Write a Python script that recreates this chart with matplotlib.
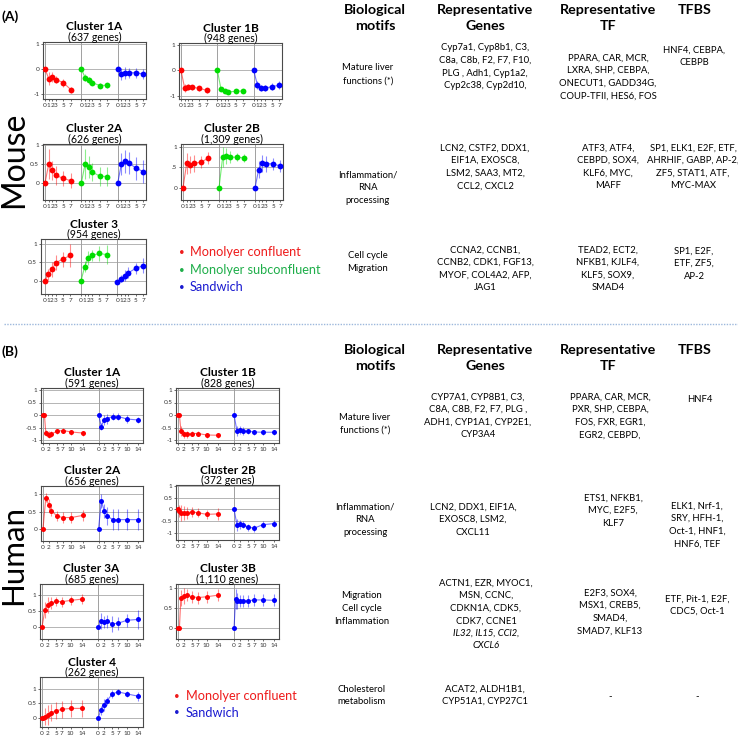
import matplotlib
matplotlib.use('Agg')
import matplotlib.pyplot as plt
from matplotlib.lines import Line2D

W, H = 738, 739
plt.rcParams['font.family'] = ['Lato', 'DejaVu Sans']
plt.rcParams['axes.unicode_minus'] = False

BODY_FONT, BODY = ['Lato', 'DejaVu Sans'], 6.8

RED, GREEN, BLUE = '#ff0000', '#00dd00', '#0000ff'

# ---------------- data ----------------
mouse_t = [0, 1, 2, 3, 5, 7]
mouse_ticks = [0, 1, 2, 3, 5, 7]
human_ticks = [0, 2, 5, 7, 10, 14]
human_t9 = [0, 0.5, 1, 2, 3, 5, 7, 10, 14]
human_t8 = [0, 1, 2, 3, 5, 7, 10, 14]

# Mouse cluster 1A
m1a_red = [0.0, -0.38, -0.31, -0.42, -0.55, -0.82]
m1a_green = [0.0, -0.34, -0.45, -0.55, -0.66, -0.65]
m1a_blue = [0.0, -0.2, -0.16, -0.15, -0.15, -0.2]
m1a_red_err = [0.05, 0.25, 0.2, 0.15, 0.15, 0.12]
m1a_green_err = [0.05, 0.15, 0.15, 0.1, 0.1, 0.1]
m1a_blue_err = [0.05, 0.25, 0.25, 0.2, 0.2, 0.2]
# Mouse cluster 1B
m1b_red = [0.0, -0.7, -0.65, -0.66, -0.7, -0.78]
m1b_green = [0.0, -0.74, -0.79, -0.84, -0.82, -0.8]
m1b_blue = [0.0, -0.57, -0.68, -0.7, -0.63, -0.58]
m1b_red_err = [0.05, 0.15, 0.1, 0.1, 0.1, 0.1]
m1b_green_err = [0.05, 0.08, 0.08, 0.08, 0.08, 0.08]
m1b_blue_err = [0.05, 0.15, 0.12, 0.12, 0.12, 0.15]
# Mouse cluster 2A
m2a_red = [0.0, 0.5, 0.33, 0.2, 0.12, 0.06]
m2a_green = [0.0, 0.5, 0.42, 0.29, 0.18, 0.17]
m2a_blue = [0.0, 0.5, 0.57, 0.53, 0.39, 0.3]
m2a_red_err = [0.05, 0.4, 0.25, 0.25, 0.2, 0.2]
m2a_green_err = [0.05, 0.4, 0.3, 0.25, 0.25, 0.25]
m2a_blue_err = [0.05, 0.3, 0.3, 0.3, 0.3, 0.3]
# Mouse cluster 2B
m2b_red = [0.0, 0.6, 0.57, 0.6, 0.63, 0.73]
m2b_green = [0.0, 0.75, 0.78, 0.75, 0.75, 0.73]
m2b_blue = [0.0, 0.45, 0.6, 0.59, 0.59, 0.53]
m2b_red_err = [0.05, 0.25, 0.2, 0.2, 0.15, 0.15]
m2b_green_err = [0.05, 0.25, 0.2, 0.15, 0.1, 0.1]
m2b_blue_err = [0.05, 0.2, 0.2, 0.2, 0.15, 0.15]
# Mouse cluster 3
m3_red = [0.0, 0.18, 0.31, 0.49, 0.59, 0.69]
m3_green = [0.0, 0.39, 0.62, 0.69, 0.74, 0.71]
m3_blue = [-0.02, 0.06, 0.14, 0.22, 0.34, 0.41]
m3_red_err = [0.05, 0.15, 0.2, 0.2, 0.2, 0.3]
m3_green_err = [0.05, 0.15, 0.2, 0.15, 0.2, 0.25]
m3_blue_err = [0.05, 0.1, 0.15, 0.15, 0.15, 0.2]

# Human clusters
h1a_red = [0.02, 0.02, -0.72, -0.78, -0.75, -0.65, -0.62, -0.68, -0.72]
h1a_blue = [0.02, -0.46, -0.18, -0.14, -0.06, -0.06, -0.16, -0.2]
h1a_red_err = [0.02, 0.02, 0.12, 0.15, 0.12, 0.1, 0.1, 0.1, 0.1]
h1a_blue_err = [0.02, 0.15, 0.2, 0.2, 0.15, 0.15, 0.15, 0.12]
h1b_red = [0.0, 0.0, -0.62, -0.77, -0.77, -0.74, -0.74, -0.8, -0.81]
h1b_blue = [0.0, -0.64, -0.59, -0.64, -0.65, -0.68, -0.69, -0.69]
h1b_red_err = [0.02, 0.02, 0.2, 0.15, 0.15, 0.1, 0.1, 0.1, 0.1]
h1b_blue_err = [0.02, 0.2, 0.15, 0.15, 0.1, 0.1, 0.1, 0.1]
h2a_red = [0.0, 0.9, 0.7, 0.52, 0.37, 0.33, 0.33, 0.39]
h2a_blue = [0.0, 0.8, 0.53, 0.38, 0.27, 0.27, 0.27, 0.27]
h2a_red_err = [0.02, 0.12, 0.15, 0.15, 0.15, 0.15, 0.15, 0.15]
h2a_blue_err = [0.02, 0.2, 0.2, 0.25, 0.3, 0.3, 0.3, 0.3]
h2b_red = [0.0, -0.07, -0.14, -0.14, -0.14, -0.11, -0.14, -0.21, -0.19]
h2b_blue = [0.0, -0.65, -0.63, -0.65, -0.75, -0.8, -0.65, -0.6]
h2b_red_err = [0.02, 0.25, 0.35, 0.3, 0.25, 0.2, 0.2, 0.2, 0.25]
h2b_blue_err = [0.02, 0.25, 0.2, 0.15, 0.15, 0.15, 0.15, 0.15]
h3a_red = [0.0, 0.53, 0.68, 0.75, 0.8, 0.79, 0.83, 0.87]
h3a_blue = [0.0, 0.18, 0.16, 0.18, 0.1, 0.12, 0.21, 0.24]
h3a_red_err = [0.02, 0.25, 0.25, 0.2, 0.15, 0.15, 0.15, 0.15]
h3a_blue_err = [0.02, 0.25, 0.2, 0.2, 0.25, 0.2, 0.2, 0.3]
h3b_red = [0.0, 0.0, 0.75, 0.8, 0.82, 0.78, 0.76, 0.78, 0.82]
h3b_blue = [0.0, 0.72, 0.68, 0.67, 0.68, 0.68, 0.7, 0.7, 0.69]
h3b_red_err = [0.02, 0.02, 0.2, 0.2, 0.15, 0.15, 0.15, 0.15, 0.15]
h3b_blue_err = [0.02, 0.25, 0.2, 0.15, 0.15, 0.15, 0.15, 0.15, 0.15]
h4_red = [0.0, 0.0, 0.05, 0.1, 0.18, 0.25, 0.3, 0.33, 0.33]
h4_blue = [0.0, 0.27, 0.44, 0.58, 0.83, 0.9, 0.83, 0.75]
h4_red_err = [0.02, 0.02, 0.3, 0.35, 0.3, 0.3, 0.3, 0.3, 0.3]
h4_blue_err = [0.02, 0.15, 0.2, 0.15, 0.15, 0.1, 0.1, 0.15]

# table text
headers = ["Biological\nmotifs", "Representative\nGenes", "Representative\nTF", "TFBS"]
mouse_motifs = [["Mature liver", "functions (*)"],
                ["Inflammation/", "RNA", "processing"],
                ["Cell cycle", "Migration"]]
mouse_genes = [["Cyp7a1, Cyp8b1, C3,", "C8a, C8b, F2, F7, F10,", "PLG , Adh1, Cyp1a2,", "Cyp2c38, Cyp2d10,"],
               ["LCN2, CSTF2, DDX1,", "EIF1A, EXOSC8,", "LSM2, SAA3, MT2,", "CCL2, CXCL2"],
               ["CCNA2, CCNB1,", "CCNB2, CDK1, FGF13,", "MYOF, COL4A2, AFP,", "JAG1"]]
mouse_tf = [["PPARA, CAR, MCR,", "LXRA, SHP, CEBPA,", "ONECUT1, GADD34G,", "COUP-TFII, HES6, FOS"],
            ["ATF3, ATF4,", "CEBPD, SOX4,", "KLF6, MYC,", "MAFF"],
            ["TEAD2, ECT2,", "NFKB1, KJLF4,", "KLF5, SOX9,", "SMAD4"]]
mouse_tfbs = [["HNF4, CEBPA,", "CEBPB"],
              ["SP1, ELK1, E2F, ETF,", "AHRHIF, GABP, AP-2,", "ZF5, STAT1, ATF,", "MYC-MAX"],
              ["SP1, E2F,", "ETF, ZF5,", "AP-2"]]
human_motifs = [["Mature liver", "functions (*)"],
                ["Inflammation/", "RNA", "processing"],
                ["Migration", "Cell cycle", "Inflammation"],
                ["Cholesterol", "metabolism"]]
human_genes = [["CYP7A1, CYP8B1, C3,", "C8A, C8B, F2, F7, PLG ,", "ADH1, CYP1A1, CYP2E1,", "CYP3A4"],
               ["LCN2, DDX1, EIF1A,", "EXOSC8, LSM2,", "CXCL11"],
               ["ACTN1, EZR, MYOC1,", "MSN, CCNC,", "CDKN1A, CDK5,", "CDK7, CCNE1"],
               ["ACAT2, ALDH1B1,", "CYP51A1, CYP27C1"]]
human_genes_italic = ["IL32, IL15, CCl2,", "CXCL6"]
human_tf = [["PPARA, CAR, MCR,", "PXR, SHP, CEBPA,", "FOS, FXR, EGR1,", "EGR2, CEBPD,"],
            ["ETS1, NFKB1,", "MYC, E2F5,", "KLF7"],
            ["E2F3, SOX4,", "MSX1, CREB5,", "SMAD4,", "SMAD7, KLF13"],
            ["-"]]
human_tfbs = [["HNF4"],
              ["ELK1, Nrf-1,", "SRY, HFH-1,", "Oct-1, HNF1,", "HNF6, TEF"],
              ["ETF, Pit-1, E2F,", "CDC5, Oct-1"],
              ["-"]]
mouse_legend = ["Monolyer confluent", "Monolyer subconfluent", "Sandwich"]
human_legend = ["Monolyer confluent", "Sandwich"]

# ---------------- figure ----------------
fig = plt.figure(figsize=(W / 100, H / 100), dpi=100)


def fx(x):
    return x / W


def fy(y):
    return 1 - y / H


def panel(rect, title, sub, series, offset, xlim, ylim, yticks, yticklabels, ticks, ms):
    l, t, r, b = rect
    ax = fig.add_axes([fx(l), fy(b), (r - l) / W, (b - t) / H])
    for k, (times, vals, errs, col) in enumerate(series):
        xs = [tt + k * offset for tt in times]
        ax.errorbar(xs, vals, yerr=errs, fmt='none', ecolor=col, elinewidth=0.8,
                    alpha=0.45, zorder=2)
        ax.plot(xs, vals, '-', color=col, lw=0.8, alpha=0.55, zorder=3)
        ax.plot(xs, vals, 'o', color=col, ms=ms, mec='none', zorder=4)
        ax.axvline(k * offset, color='#a0a0a0', lw=0.7, zorder=1)
    ax.set_xlim(*xlim)
    ax.set_ylim(*ylim)
    ax.set_yticks(yticks)
    ax.set_yticklabels(yticklabels)
    xt, xl = [], []
    for k in range(len(series)):
        for tt in ticks:
            xt.append(tt + k * offset)
            xl.append(str(tt))
    ax.set_xticks(xt)
    ax.set_xticklabels(xl)
    ax.yaxis.grid(True, color='#b4b4b4', lw=0.7)
    ax.set_axisbelow(True)
    ax.tick_params(axis='both', labelsize=4.6, length=1.5, width=0.5, pad=1.2,
                   colors='#333333', direction='out')
    for s in ax.spines.values():
        s.set_color('#4a4a4a')
        s.set_linewidth(0.8)
    cx = (l + r) / 2
    fig.text(fx(cx), fy(t - 15), title, ha='center', va='center', fontsize=8.6,
             fontweight='bold')
    fig.text(fx(cx), fy(t - 5), sub, ha='center', va='center', fontsize=7.6)
    return ax


M_OFF = 9.9
M_XLIM = (-0.55, 27.5)
H_OFF = 19.6
H_XLIM = (-0.7, 35.3)
M_MS = 4.2
H_MS = 3.6

# Mouse panels
panel((43, 42, 146, 99), "Cluster 1A", "(637 genes)",
      [(mouse_t, m1a_red, m1a_red_err, RED), (mouse_t, m1a_green, m1a_green_err, GREEN),
       (mouse_t, m1a_blue, m1a_blue_err, BLUE)],
      M_OFF, M_XLIM, (-1.2, 1.08), [-1, 0, 1], ['-1', '0', '1'], mouse_ticks, M_MS)
panel((179, 43, 282, 99), "Cluster 1B", "(948 genes)",
      [(mouse_t, m1b_red, m1b_red_err, RED), (mouse_t, m1b_green, m1b_green_err, GREEN),
       (mouse_t, m1b_blue, m1b_blue_err, BLUE)],
      M_OFF, M_XLIM, (-1.12, 1.08), [-1, 0, 1], ['-1', '0', '1'], mouse_ticks, M_MS)
panel((43, 144, 146, 200), "Cluster 2A", "(626 genes)",
      [(mouse_t, m2a_red, m2a_red_err, RED), (mouse_t, m2a_green, m2a_green_err, GREEN),
       (mouse_t, m2a_blue, m2a_blue_err, BLUE)],
      M_OFF, M_XLIM, (-0.45, 1.03), [0, 0.5, 1], ['0', '0.5', '1'], mouse_ticks, M_MS)
panel((181, 144, 283, 200), "Cluster 2B", "(1,309 genes)",
      [(mouse_t, m2b_red, m2b_red_err, RED), (mouse_t, m2b_green, m2b_green_err, GREEN),
       (mouse_t, m2b_blue, m2b_blue_err, BLUE)],
      M_OFF, M_XLIM, (-0.29, 1.07), [0, 0.5, 1], ['0', '.5', '1'], mouse_ticks, M_MS)
panel((41, 239, 146, 294), "Cluster 3", "(954 genes)",
      [(mouse_t, m3_red, m3_red_err, RED), (mouse_t, m3_green, m3_green_err, GREEN),
       (mouse_t, m3_blue, m3_blue_err, BLUE)],
      M_OFF, (-1.0, 27.6), (-0.35, 1.13), [0, 0.5, 1], ['0', '0.5', '1'], mouse_ticks, M_MS)

# Human panels
hy1 = [-1, -0.5, 0, 0.5, 1]
hy1l = ['-1', '-0.5', '0', '0.5', '1']
hy2 = [0, 0.5, 1]
hy2l = ['0', '0.5', '1']
panel((41, 388, 143, 443), "Cluster 1A", "(591 genes)",
      [(human_t9, h1a_red, h1a_red_err, RED), (human_t8, h1a_blue, h1a_blue_err, BLUE)],
      H_OFF, H_XLIM, (-1.12, 1.08), hy1, hy1l, human_ticks, H_MS)
panel((176, 388, 279, 443), "Cluster 1B", "(828 genes)",
      [(human_t9, h1b_red, h1b_red_err, RED), (human_t8, h1b_blue, h1b_blue_err, BLUE)],
      H_OFF, H_XLIM, (-1.12, 1.08), hy1, hy1l, human_ticks, H_MS)
panel((41, 486, 143, 541), "Cluster 2A", "(656 genes)",
      [(human_t8, h2a_red, h2a_red_err, RED), (human_t8, h2a_blue, h2a_blue_err, BLUE)],
      H_OFF, H_XLIM, (-0.34, 1.23), hy2, hy2l, human_ticks, H_MS)
panel((176, 485, 279, 540), "Cluster 2B", "(372 genes)",
      [(human_t9, h2b_red, h2b_red_err, RED), (human_t8, h2b_blue, h2b_blue_err, BLUE)],
      H_OFF, H_XLIM, (-1.3, 1.04), hy1, hy1l, human_ticks, H_MS)
panel((40, 584, 143, 639), "Cluster 3A", "(685 genes)",
      [(human_t8, h3a_red, h3a_red_err, RED), (human_t8, h3a_blue, h3a_blue_err, BLUE)],
      H_OFF, H_XLIM, (-0.37, 1.34), hy2, hy2l, human_ticks, H_MS)
panel((176, 584, 279, 639), "Cluster 3B", "(1,110 genes)",
      [(human_t9, h3b_red, h3b_red_err, RED), (human_t9, h3b_blue, h3b_blue_err, BLUE)],
      H_OFF, H_XLIM, (-0.28, 1.1), hy2, hy2l, human_ticks, H_MS)
panel((40, 677, 143, 727), "Cluster 4", "(262 genes)",
      [(human_t9, h4_red, h4_red_err, RED), (human_t8, h4_blue, h4_blue_err, BLUE)],
      H_OFF, H_XLIM, (-0.31, 1.41), hy2, hy2l, human_ticks, H_MS)

# Legends
leg_cols = ['#ee1c1c', '#1fae4a', '#1a1ad0']
for i, (lab, yy) in enumerate(zip(mouse_legend, [252, 270, 287])):
    fig.text(fx(182), fy(yy), "\u2022", color=leg_cols[i], ha='center', va='center', fontsize=7)
    fig.text(fx(190), fy(yy), lab, color=leg_cols[i], ha='left', va='center', fontsize=9.2)
for i, (lab, yy) in enumerate(zip(human_legend, [696, 713])):
    col = [leg_cols[0], leg_cols[2]][i]
    fig.text(fx(177), fy(yy), "\u2022", color=col, ha='center', va='center', fontsize=7)
    fig.text(fx(186), fy(yy), lab, color=col, ha='left', va='center', fontsize=9.2)

# Section labels
fig.text(fx(1), fy(17), "(A)", fontsize=10, fontweight='bold', ha='left', va='center')
fig.text(fx(1), fy(352), "(B)", fontsize=10, fontweight='bold', ha='left', va='center')
fig.text(fx(14), fy(160), "Mouse", fontsize=23, rotation=90, ha='center', va='center')
fig.text(fx(13), fy(555), "Human", fontsize=22.5, rotation=90, ha='center', va='center')

# separator
fig.add_artist(Line2D([fx(4), fx(738)], [fy(324), fy(324)], transform=fig.transFigure,
                      ls=(0, (1, 1)), color='#9db8dc', lw=1.0))

# Headers
hdr_x = [375, 485, 608, 695]
for yy0 in (10, 350):
    for hx, txt in zip(hdr_x, headers):
        lines = txt.split("\n")
        for j, ln in enumerate(lines):
            fig.text(fx(hx), fy(yy0 + 16 * j), ln, ha='center', va='center',
                     fontsize=10.3, fontweight='bold')

STEP = 12.6


def block(x, y0, lines, style='normal'):
    for j, ln in enumerate(lines):
        fig.text(fx(x), fy(y0 + STEP * j), ln, ha='center', va='center', fontsize=BODY,
                 style=style, family=BODY_FONT)


# Mouse rows
block(368, 68, mouse_motifs[0])
block(485, 48, mouse_genes[0])
block(608, 58, mouse_tf[0])
block(694, 50, mouse_tfbs[0])
block(368, 175, mouse_motifs[1])
block(485, 148, mouse_genes[1])
block(608, 148, mouse_tf[1])
block(693, 148, mouse_tfbs[1])
block(368, 256, mouse_motifs[2])
block(485, 250, mouse_genes[2])
block(608, 250, mouse_tf[2])
block(694, 251, mouse_tfbs[2])

# Human rows
block(365, 417, human_motifs[0])
block(478, 397, human_genes[0])
block(610, 397, human_tf[0])
block(700, 400, human_tfbs[0])
block(365, 507, human_motifs[1])
block(473, 507, human_genes[1])
block(613, 498, human_tf[1])
block(697, 506, human_tfbs[1])
block(362, 596, human_motifs[2])
block(486, 583, human_genes[2])
block(486, 583 + 4 * STEP, human_genes_italic, style='italic')
block(610, 593, human_tf[2])
block(697, 599, human_tfbs[2])
block(362, 689, human_motifs[3])
block(485, 689, human_genes[3])
block(610, 697, human_tf[3])
block(697, 697, human_tfbs[3])

fig.savefig("out.png", dpi=100)
